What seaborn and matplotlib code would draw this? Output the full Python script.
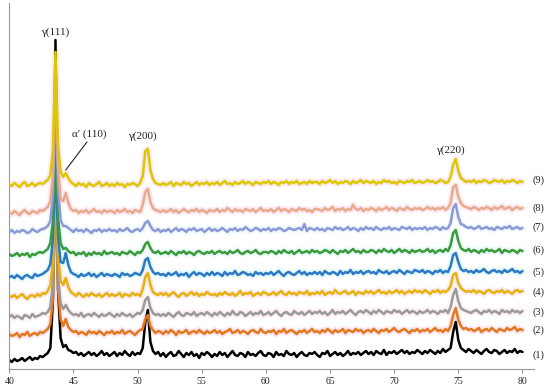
# -*- coding: utf-8 -*-

import numpy as np
import pandas as pd
import matplotlib
matplotlib.use('Agg')
import matplotlib.pyplot as plt
import seaborn as sns

# scan grid (2theta, deg)
scan_start, scan_end, scan_step = 40.0, 80.0, 0.2
two_theta = np.round(np.arange(scan_start, scan_end + scan_step / 2, scan_step), 1)

# intensities, one row = 4 deg (20 points), last value at 80
sample_1 = [
    0, -2, 1, -1, 0, 2, -1, 1, 3, 0, 2, 1, 4, 3, 5, 7, 12, 60, 320, 70,
    22, 13, 15, 10, 9, 7, 8, 5, 7, 4, 6, 8, 5, 7, 4, 6, 9, 5, 7, 4,
    6, 8, 4, 7, 5, 9, 6, 4, 8, 5, 7, 6, 12, 38, 50, 18, 9, 6, 8, 4,
    7, 3, 6, 8, 4, 5, 9, 6, 3, 7, 5, 8, 4, 6, 2, 7, 5, 8, 6, 3,
    6, 4, 8, 5, 7, 3, 6, 9, 5, 4, 7, 6, 3, 8, 5, 6, 4, 7, 9, 5,
    4, 7, 6, 3, 8, 5, 6, 4, 9, 6, 5, 7, 3, 6, 8, 5, 4, 7, 6, 8,
    5, 3, 7, 6, 9, 4, 6, 8, 5, 7, 4, 6, 9, 5, 7, 6, 8, 5, 7, 9,
    6, 8, 5, 9, 7, 6, 10, 5, 8, 7, 9, 6, 8, 10, 7, 9, 6, 8, 7, 10,
    8, 6, 9, 7, 10, 8, 6, 9, 7, 11, 8, 10, 12, 28, 38, 20, 12, 10, 8, 11,
    9, 7, 10, 8, 6, 9, 11, 8, 7, 10, 9, 6, 8, 10, 7, 9, 8, 11, 7, 9,
    8]
sample_2 = [
    1, -1, 0, 2, -2, 1, 0, 3, -1, 1, 2, 0, 3, 2, 4, 6, 11, 36, 140, 45,
    16, 9, 16, 8, 5, 3, 4, 1, 3, 2, 0, 4, 2, 3, 1, 4, 2, 0, 3, 2,
    4, 1, 3, 2, 5, 1, 3, 4, 2, 0, 3, 5, 6, 16, 20, 9, 5, 2, 4, 3,
    1, 4, 2, 5, 3, 0, 4, 2, 3, 5, 1, 3, 4, 2, 5, 3, 1, 4, 2, 3,
    5, 2, 4, 1, 3, 4, 6, 2, 3, 5, 2, 4, 3, 1, 4, 5, 3, 2, 6, 3,
    2, 4, 3, 5, 1, 4, 3, 6, 2, 4, 5, 3, 1, 4, 3, 5, 2, 4, 6, 3,
    4, 2, 5, 3, 6, 4, 2, 5, 3, 4, 6, 2, 5, 4, 3, 6, 4, 5, 2, 4,
    5, 3, 6, 4, 2, 5, 4, 6, 3, 5, 7, 4, 3, 5, 6, 4, 2, 5, 4, 6,
    3, 5, 4, 6, 3, 5, 7, 4, 5, 3, 6, 4, 9, 20, 27, 15, 9, 6, 7, 5,
    6, 4, 5, 7, 3, 5, 6, 4, 7, 5, 3, 6, 5, 4, 7, 5, 6, 8, 4, 6,
    5]
sample_3 = [
    0, 2, -1, 1, 0, -2, 2, 1, -1, 3, 0, 1, 2, 4, 3, 5, 10, 34, 130, 40,
    14, 8, 12, 7, 4, 2, 3, 1, 4, 0, 2, 3, 1, 4, 2, 0, 3, 1, 2, 4,
    2, 0, 3, 1, 4, 2, 1, 3, 0, 2, 4, 3, 7, 17, 20, 9, 4, 2, 3, 1,
    3, 1, 4, 2, 0, 3, 5, 2, 1, 4, 3, 2, 5, 1, 3, 4, 2, 5, 3, 1,
    4, 2, 5, 3, 1, 4, 2, 6, 3, 2, 5, 4, 1, 3, 5, 2, 4, 3, 6, 2,
    3, 5, 2, 4, 6, 3, 1, 4, 5, 3, 2, 6, 4, 3, 5, 2, 4, 6, 3, 5,
    4, 6, 3, 5, 2, 4, 7, 3, 5, 4, 6, 3, 5, 7, 4, 2, 5, 6, 4, 7,
    5, 3, 6, 4, 7, 5, 3, 6, 5, 4, 7, 5, 6, 3, 5, 7, 4, 6, 5, 3,
    6, 4, 5, 7, 4, 6, 5, 3, 6, 5, 7, 4, 10, 22, 28, 16, 9, 7, 6, 5,
    4, 6, 7, 5, 3, 6, 5, 7, 4, 6, 5, 3, 7, 5, 6, 4, 7, 5, 6, 4,
    6]
sample_4 = [
    1, 0, 2, -1, 1, 3, 0, -2, 1, 2, 0, 3, 1, 4, 3, 6, 12, 36, 120, 42,
    16, 12, 19, 10, 5, 3, 1, 4, 2, 0, 3, 1, 4, 2, 1, 3, 0, 2, 4, 1,
    3, 1, 2, 4, 0, 3, 2, 1, 4, 2, 3, 1, 8, 20, 24, 12, 5, 3, 2, 4,
    2, 4, 1, 3, 5, 2, 0, 3, 4, 1, 3, 5, 2, 4, 1, 3, 2, 5, 3, 2,
    3, 1, 4, 2, 5, 3, 2, 4, 1, 3, 6, 2, 4, 3, 5, 1, 3, 4, 2, 5,
    4, 2, 3, 5, 2, 4, 6, 3, 2, 5, 3, 4, 2, 5, 4, 3, 6, 2, 4, 3,
    5, 3, 6, 2, 4, 5, 3, 7, 4, 3, 5, 6, 3, 4, 6, 2, 5, 4, 3, 6,
    4, 6, 3, 5, 7, 4, 5, 3, 6, 4, 5, 7, 4, 6, 3, 5, 6, 4, 7, 5,
    6, 4, 7, 5, 3, 6, 5, 7, 4, 6, 5, 7, 11, 22, 24, 14, 9, 7, 5, 6,
    5, 7, 4, 6, 5, 3, 6, 7, 5, 4, 6, 5, 7, 4, 6, 5, 3, 6, 7, 5,
    6]
sample_5 = [
    0, 1, -1, 2, 0, -2, 1, 2, 0, -1, 3, 1, 2, 3, 5, 7, 13, 38, 110, 40,
    15, 14, 24, 12, 5, 3, 2, 0, 3, 1, 2, 4, 1, 3, 0, 2, 4, 1, 3, 2,
    1, 3, 2, 0, 4, 2, 3, 1, 2, 4, 3, 2, 7, 17, 19, 10, 5, 3, 4, 2,
    3, 1, 4, 2, 3, 5, 1, 3, 2, 4, 0, 3, 5, 2, 4, 3, 1, 4, 2, 5,
    2, 4, 3, 1, 5, 2, 4, 3, 6, 2, 3, 5, 4, 2, 3, 1, 5, 3, 4, 2,
    4, 3, 5, 2, 4, 6, 3, 1, 4, 5, 3, 2, 4, 6, 3, 5, 2, 4, 3, 5,
    3, 5, 2, 6, 4, 3, 5, 4, 2, 6, 3, 5, 4, 7, 3, 5, 4, 6, 3, 5,
    6, 4, 5, 3, 7, 5, 4, 6, 3, 5, 6, 4, 7, 5, 3, 6, 5, 4, 7, 6,
    5, 7, 4, 6, 5, 3, 6, 5, 7, 4, 6, 5, 11, 22, 24, 15, 8, 6, 7, 5,
    6, 4, 7, 5, 6, 8, 5, 4, 6, 7, 5, 6, 4, 7, 5, 6, 8, 5, 6, 4,
    6]
sample_6 = [
    1, -1, 0, 2, -1, 1, 0, 2, -2, 1, 0, 2, 3, 2, 4, 6, 12, 34, 140, 38,
    12, 6, 7, 4, 2, 3, 0, 2, 1, 3, -1, 2, 0, 3, 1, 2, 0, 4, 1, 2,
    3, 1, 2, 0, 3, 2, 1, 4, 2, 0, 3, 2, 5, 11, 13, 7, 3, 2, 4, 1,
    2, 3, 1, 4, 2, 0, 3, 2, 4, 1, 3, 2, 0, 3, 4, 2, 1, 3, 2, 4,
    1, 3, 4, 2, 3, 1, 4, 2, 3, 5, 2, 1, 3, 4, 2, 3, 5, 2, 1, 3,
    3, 2, 4, 3, 1, 4, 2, 5, 3, 2, 4, 1, 3, 5, 2, 3, 4, 2, 5, 3,
    4, 2, 3, 5, 4, 2, 5, 3, 1, 4, 3, 5, 2, 4, 6, 3, 4, 2, 5, 3,
    3, 5, 4, 2, 5, 3, 6, 4, 3, 5, 2, 4, 6, 3, 5, 4, 2, 5, 3, 4,
    5, 3, 4, 6, 3, 5, 2, 4, 5, 3, 6, 4, 10, 22, 25, 14, 7, 5, 4, 6,
    3, 5, 4, 2, 5, 3, 6, 4, 5, 3, 4, 6, 2, 5, 4, 3, 5, 4, 2, 5,
    4]
sample_7 = [
    0, 2, -1, 1, 0, 2, 1, -1, 0, 3, 1, 0, 2, 3, 4, 6, 11, 36, 145, 44,
    12, 6, 6, 4, 2, 0, 3, 1, 2, 0, 3, 1, -1, 2, 1, 3, 0, 2, 1, 3,
    1, 2, 0, 3, 1, 2, 4, 1, 0, 2, 3, 1, 4, 9, 11, 6, 2, 1, 3, 0,
    2, 1, 3, 0, 2, 4, 1, 3, 2, 0, 3, 2, 4, 1, 2, 3, 0, 2, 4, 1,
    3, 1, 2, 4, 2, 0, 3, 2, 4, 1, 3, 2, 5, 3, 1, 2, 4, 3, 1, 3,
    2, 4, 1, 3, 2, 4, 3, 1, 2, 4, 3, 2, 3, 4, 2, 8, 1, 4, 3, 2,
    4, 2, 3, 1, 4, 3, 2, 5, 3, 4, 2, 3, 5, 2, 4, 3, 1, 4, 2, 5,
    3, 4, 2, 5, 3, 2, 4, 3, 5, 2, 4, 3, 2, 5, 4, 3, 5, 2, 4, 3,
    4, 3, 5, 2, 4, 3, 5, 4, 2, 5, 3, 4, 9, 24, 28, 15, 8, 7, 5, 4,
    5, 3, 4, 6, 3, 4, 5, 3, 4, 2, 5, 4, 3, 5, 4, 6, 3, 4, 5, 3,
    4]
sample_8 = [
    1, -1, 2, 0, -2, 1, 3, 0, -1, 2, 1, 0, 3, 2, 4, 6, 12, 38, 150, 46,
    14, 12, 20, 10, 4, 2, 3, 0, 2, 1, 3, 0, 2, 4, 1, 2, 0, 3, 1, 2,
    2, 0, 3, 1, 2, 4, 1, 2, 0, 3, 2, 1, 8, 21, 24, 11, 5, 3, 2, 1,
    3, 1, 2, 4, 1, 3, 0, 2, 4, 2, 1, 3, 2, 4, 1, 3, 2, 0, 3, 2,
    2, 4, 1, 3, 2, 5, 3, 1, 4, 2, 3, 1, 4, 3, 2, 4, 1, 3, 5, 2,
    3, 2, 4, 1, 3, 5, 2, 4, 3, 1, 4, 3, 2, 5, 3, 4, 2, 3, 1, 4,
    4, 3, 2, 5, 3, 4, 6, 2, 4, 3, 5, 2, 4, 3, 8, 4, 3, 5, 2, 4,
    3, 5, 4, 2, 5, 3, 4, 6, 3, 5, 4, 2, 5, 4, 3, 6, 4, 3, 5, 4,
    5, 3, 4, 6, 4, 5, 3, 5, 4, 6, 3, 5, 10, 26, 28, 16, 10, 7, 6, 5,
    4, 6, 5, 3, 5, 4, 6, 5, 3, 6, 4, 5, 7, 4, 5, 6, 3, 5, 6, 4,
    5]
sample_9 = [
    1, -1, 2, 0, -2, 1, 3, -1, 0, 2, -1, 1, 2, 1, 3, 5, 10, 34, 133, 40,
    13, 8, 12, 7, 3, 1, -1, 2, 0, 1, -2, 2, 0, -1, 1, 3, -1, 0, 2, -1,
    1, -1, 2, 0, 1, -2, 1, 0, 2, 1, -1, 2, 9, 34, 36, 15, 6, 2, 1, 0,
    2, 0, 1, 3, -1, 2, 1, 0, 3, 1, 2, -1, 1, 3, 0, 2, 1, 3, 0, 2,
    1, 3, 0, 2, 4, 1, 2, 0, 3, 1, 2, 4, 1, 3, 2, 0, 3, 2, 1, 3,
    2, 4, 1, 3, 2, 0, 3, 2, 4, 1, 3, 2, 4, 1, 2, 3, 1, 4, 2, 3,
    3, 1, 4, 2, 3, 5, 2, 4, 1, 3, 2, 4, 3, 1, 4, 2, 3, 5, 2, 4,
    3, 2, 4, 1, 3, 2, 5, 3, 4, 2, 3, 1, 4, 3, 2, 4, 3, 5, 2, 3,
    4, 2, 3, 5, 3, 4, 2, 3, 5, 4, 2, 3, 8, 20, 26, 14, 7, 5, 3, 4,
    3, 5, 2, 4, 3, 5, 4, 2, 3, 5, 4, 3, 5, 2, 4, 3, 5, 4, 2, 4,
    3]

samples = [sample_1, sample_2, sample_3, sample_4, sample_5,
           sample_6, sample_7, sample_8, sample_9]
sample_labels = ['(1)', '(2)', '(3)', '(4)', '(5)', '(6)', '(7)', '(8)', '(9)']

peak_names = ['γ(111)', 'α′ (110)', 'γ(200)', 'γ(220)']
peak_pos = [43.6, 46.2, 50.4, 74.4]

# stacking and looks
offsets = [9, 34, 52, 72, 92, 114, 137, 156, 184]
colors = ['#000000', '#E2791F', '#9A9A9A', '#E6B20E', '#2F78C4',
          '#3C9A3A', '#8E98D8', '#E8A98C', '#DCC800']
halo = [None, '#FDE6EF', '#FDF0F4', '#FDEBF2', '#E3F9FA',
        '#E8FAF8', '#EEF9FB', '#FDE9F0', '#FDEAF1']

sns.set_style('white')
plt.rcParams['font.family'] = ['Liberation Serif', 'DejaVu Serif']

fig = plt.figure(figsize=(5.5, 3.92), dpi=100)
ax = fig.add_axes([9.3 / 550, 23 / 392, (534 - 9.3) / 550, 366 / 392])

for i, vals in enumerate(samples):
    assert len(vals) == len(two_theta), (i, len(vals))
    df = pd.DataFrame({'two_theta': two_theta,
                       'intensity': np.array(vals) + offsets[i]})
    if halo[i]:
        sns.lineplot(data=df, x='two_theta', y='intensity', color=halo[i],
                     linewidth=4.5, estimator=None, sort=False, ax=ax, zorder=1)
    sns.lineplot(data=df, x='two_theta', y='intensity', color=colors[i],
                 linewidth=1.8, estimator=None, sort=False, ax=ax, zorder=2 + i)
    ax.text(80.75, offsets[i] + 5, sample_labels[i], ha='left', va='center',
            fontsize=7.5, color='#222222', clip_on=False)

# peak labels
ax.text(peak_pos[0], 337, peak_names[0], ha='center', va='center', fontsize=8, color='#222222')
ax.text(peak_pos[1], 235, peak_names[1], ha='center', va='center', fontsize=8, color='#222222')
ax.plot([46.05, 44.4], [227, 199], color='#222222', linewidth=0.8, zorder=20)
ax.text(peak_pos[2], 233, peak_names[2], ha='center', va='center', fontsize=8, color='#222222')
ax.text(peak_pos[3], 219, peak_names[3], ha='center', va='center', fontsize=8, color='#222222')

ax.set_xlim(40, 80.9)
ax.set_ylim(0, 366)
ax.set_xticks(range(40, 81, 5))
ax.set_yticks([])
ax.set_xlabel('')
ax.set_ylabel('')
for s in ['top', 'right']:
    ax.spines[s].set_visible(False)
for s in ['left', 'bottom']:
    ax.spines[s].set_color('#999999')
    ax.spines[s].set_linewidth(0.8)
ax.tick_params(axis='x', direction='out', length=3, width=0.8, color='#999999',
               labelsize=7, labelcolor='#222222', pad=3, bottom=True)

fig.savefig('out.png', dpi=100)
